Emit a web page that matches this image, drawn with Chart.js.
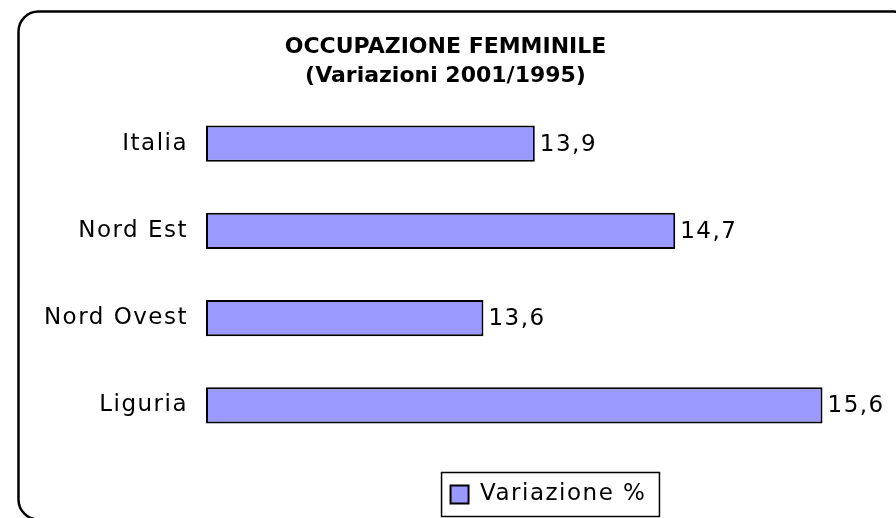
<!DOCTYPE html>
<html>
<head>
<meta charset="utf-8">
<script src="https://cdn.jsdelivr.net/npm/chart.js@4.4.1/dist/chart.umd.min.js"></script>
<style>
  html, body { margin: 0; padding: 0; background: #fff; }
  canvas { display: block; }
</style>
</head>
<body>
<canvas id="occupazione" width="896" height="518"></canvas>
<script>
var regions = ["Italia", "Nord Est", "Nord Ovest", "Liguria"];
var variazione = [13.92, 14.74, 13.62, 15.6];
var seriesLabel = "Variazione %";
var titleLines = ["OCCUPAZIONE FEMMINILE", "(Variazioni 2001/1995)"];
var axisMin = 12;
var axisMax = 16;

var fill = "#9999ff";
var border = "#000000";

Chart.defaults.font.family = "'DejaVu Sans', Verdana, sans-serif";
Chart.defaults.color = "#000";

function comma(v) {
    return v.toFixed(1).replace(".", ",");
}

// wider letter spacing like the old Excel rendering, but not on the title
var spacing = {
    id: "spacing",
    afterInit: function (chart) {
        var t = chart.titleBlock;
        var draw = t.draw.bind(t);
        t.draw = function (area) {
            var ctx = chart.ctx;
            var old = ctx.letterSpacing;
            ctx.letterSpacing = "0px";
            draw(area);
            ctx.letterSpacing = old;
        };
    },
    beforeLayout: function (chart) { chart.ctx.letterSpacing = "1.5px"; },
    beforeDraw: function (chart) { chart.ctx.letterSpacing = "1.5px"; }
};

// legend centred under the plot area, as excel does it
var legendUnderPlot = {
    id: "legendUnderPlot",
    afterLayout: function (chart) {
        chart.legend.left = chart.chartArea.left;
        chart.legend.right = chart.chartArea.right;
    }
};

var frame = {
    id: "frame",
    beforeDraw: function (chart) {
        var ctx = chart.ctx;
        ctx.save();
        ctx.strokeStyle = "#000";
        ctx.lineWidth = 2.5;
        ctx.beginPath();
        ctx.roundRect(18.5, 11.5, 895, 508, 20);
        ctx.stroke();
        ctx.restore();
    },
    afterDraw: function (chart) {
        var box = chart.legend.legendHitBoxes[0];
        if (!box) return;
        var ctx = chart.ctx;
        var cy = box.top + box.height / 2;
        ctx.save();
        ctx.strokeStyle = "#000";
        ctx.lineWidth = 1.5;
        ctx.strokeRect(box.left - 9, cy - 22, box.width + 22, 44);
        ctx.restore();
    }
};

var valueLabels = {
    id: "valueLabels",
    afterDatasetsDraw: function (chart) {
        var ctx = chart.ctx;
        var meta = chart.getDatasetMeta(0);
        ctx.save();
        ctx.font = "23px 'DejaVu Sans'";
        ctx.fillStyle = "#000";
        ctx.textAlign = "left";
        ctx.textBaseline = "middle";
        meta.data.forEach(function (bar, i) {
            ctx.fillText(comma(variazione[i]), bar.x + 5, bar.y + 1);
        });
        ctx.restore();
    }
};

var config = {
    type: "bar",
    data: {
        labels: regions,
        datasets: [{
            label: seriesLabel,
            data: variazione,
            base: axisMin,
            backgroundColor: fill,
            borderColor: border,
            borderWidth: 2,
            borderSkipped: false,
            barPercentage: 0.835,
            categoryPercentage: 0.5
        }]
    },
    options: {
        indexAxis: "y",
        responsive: false,
        animation: false,
        layout: { padding: { left: 0, right: 5, top: 0, bottom: 2 } },
        scales: {
            x: {
                display: false,
                min: axisMin,
                max: axisMax
            },
            y: {
                grid: { display: false, drawTicks: false },
                border: { display: false },
                ticks: { padding: 18, font: { size: 23 }, color: "#000" },
                afterFit: function (scale) { scale.width = 206; }
            }
        },
        plugins: {
            title: {
                display: true,
                text: titleLines,
                color: "#000",
                font: { size: 22, weight: "bold", lineHeight: 29 / 22 },
                padding: { top: 33, bottom: 9 }
            },
            legend: {
                position: "bottom",
                labels: {
                    boxWidth: 18,
                    boxHeight: 18,
                    padding: 34,
                    color: "#000",
                    font: { size: 23 }
                }
            },
            tooltip: { enabled: false }
        }
    },
    plugins: [spacing, legendUnderPlot, frame, valueLabels]
};

var barChart = new Chart(document.getElementById("occupazione"), config);
</script>
</body>
</html>
